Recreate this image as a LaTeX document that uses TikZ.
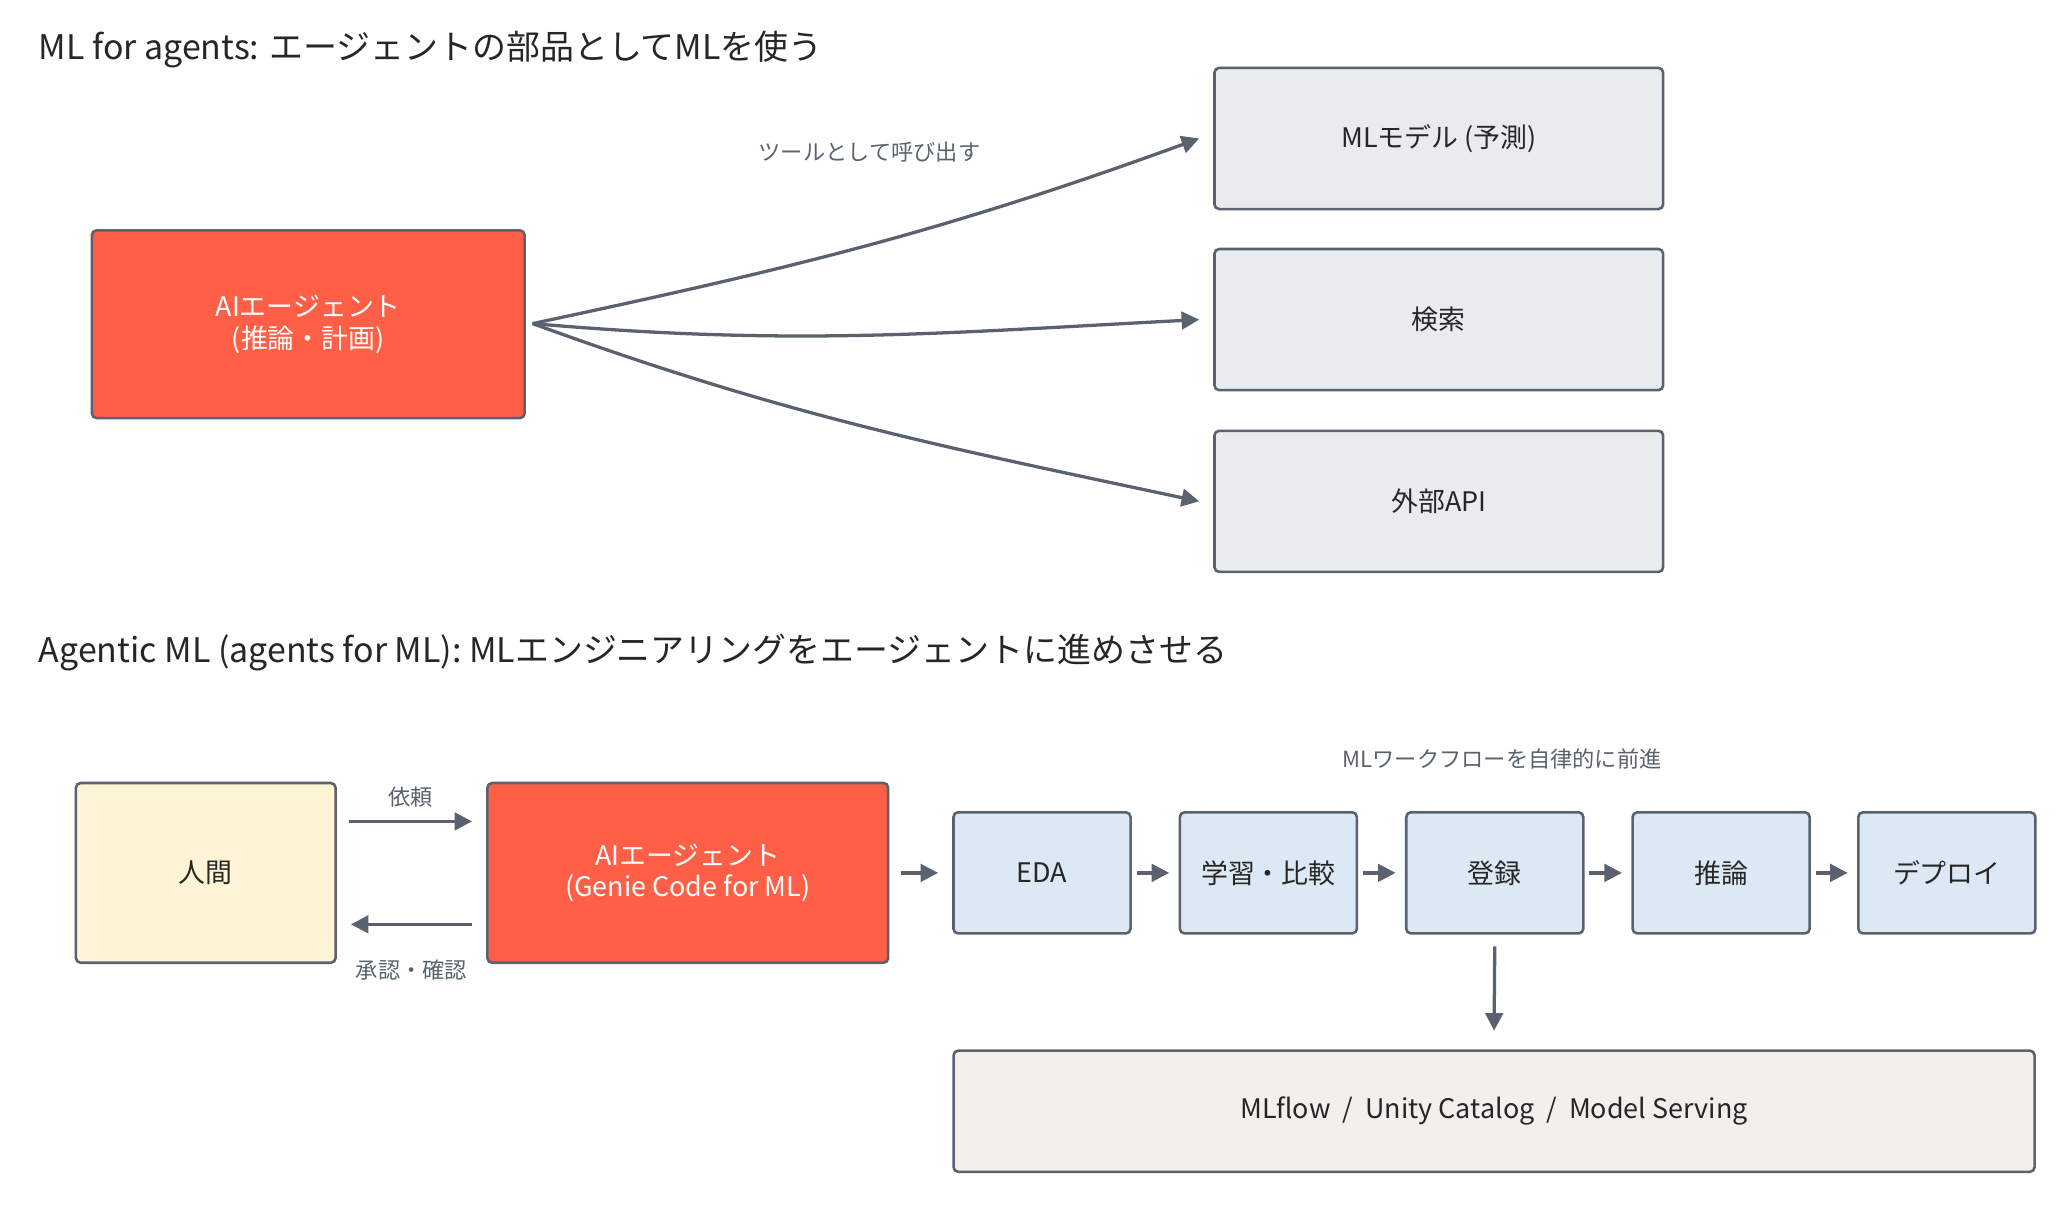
\documentclass[tikz,border=0pt]{standalone}
\usepackage{fontspec}
\setmainfont{Noto Sans CJK JP}
\usetikzlibrary{arrows.meta,positioning}
\definecolor{edgegray}{HTML}{59626E}
\definecolor{agentred}{HTML}{FF5F46}
\definecolor{toolgray}{HTML}{E8ECEF}
\definecolor{humanyel}{HTML}{FFF4D6}
\definecolor{stepblue}{HTML}{DDE8F5}
\definecolor{basebeige}{HTML}{F4EFEA}
\begin{document}
\begin{tikzpicture}[
  x=0.02cm, y=-0.02cm,
  > = {Triangle[length=7.5pt,width=7.5pt]},
  box/.style = {draw=edgegray, line width=1.1pt, rounded corners=2pt, align=center,
    font=\fontsize{11.5}{13.5}\selectfont, text=black!85},
  agent/.style = {box, fill=agentred, text=white},
  tool/.style = {box, fill=toolgray, minimum width=6.74cm, minimum height=2.12cm},
  stage/.style = {box, fill=stepblue, minimum width=2.66cm, minimum height=1.82cm},
  title/.style = {anchor=west, font=\fontsize{14.5}{17}\selectfont, text=black!85},
  lbl/.style = {font=\fontsize{9.5}{11}\selectfont, text=edgegray},
  link/.style = {->, draw=edgegray, line width=1.4pt}
  ]
  \useasboundingbox (0,0) rectangle (1550,925);

  % ML for agents
  \node[title] (t1) at (23,37) {ML for agents: エージェントの部品としてMLを使う};
  \node[agent, minimum width=6.5cm, minimum height=2.82cm] (agent) at (231.5,243.5) {AIエージェント\\(推論・計画)};
  \node[tool] (model) at (1080.5,104) {MLモデル (予測)};
  \node[tool] (search) at (1080.5,240) {検索};
  \node[tool] (api) at (1080.5,376.5) {外部API};
  \coordinate (src) at (400,243);
  \draw[link] (src) to[out=12,in=200] ([xshift=-6pt]model.west);
  \draw[link] (src) to[out=-5,in=183] ([xshift=-6pt]search.west);
  \draw[link] (src) to[out=-20,in=168] ([xshift=-6pt]api.west);
  \node[lbl] (calllbl) at (653,114) {ツールとして呼び出す};

  % Agentic ML
  \node[title] (t2) at (23,490) {Agentic ML (agents for ML): MLエンジニアリングをエージェントに進めさせる};
  \node[box, fill=humanyel, minimum width=3.9cm, minimum height=2.7cm] (human) at (154.5,655.5) {人間};
  \node[agent, minimum width=6.02cm, minimum height=2.7cm] (genie) at (516.5,655.5) {AIエージェント\\(Genie Code for ML)};
  \draw[link] ([xshift=5pt,yshift=22pt]human.east) -- ([xshift=-6pt,yshift=22pt]genie.west) node[lbl, midway, above=2pt] (reqlbl) {依頼};
  \draw[link] ([xshift=-6pt,yshift=-22pt]genie.west) -- ([xshift=6pt,yshift=-22pt]human.east) node[lbl, midway, below=11pt] (oklbl) {承認・確認};

  \node[stage] (eda) at (782.5,655.5) {EDA};
  \node[stage] (train) at (952.5,655.5) {学習・比較};
  \node[stage] (reg) at (1122.5,655.5) {登録};
  \node[stage] (infer) at (1292.5,655.5) {推論};
  \node[stage] (deploy) at (1462,655.5) {デプロイ};
  \node[lbl] (flowlbl) at (1128,570) {MLワークフローを自律的に前進};
  \draw[link] ([xshift=5pt]genie.east) -- ([xshift=-6pt]eda.west);
  \foreach \a/\b in {eda/train, train/reg, reg/infer, infer/deploy}
    \draw[link] ([xshift=2pt]\a.east) -- ([xshift=-4pt]\b.west);

  \node[box, fill=basebeige, minimum width=16.24cm, minimum height=1.82cm] (base) at (1122,834.5) {MLflow \ / \ Unity Catalog \ / \ Model Serving};
  \draw[link] ([yshift=-5pt]reg.south) -- ([yshift=8pt]base.north);
\end{tikzpicture}
\end{document}
